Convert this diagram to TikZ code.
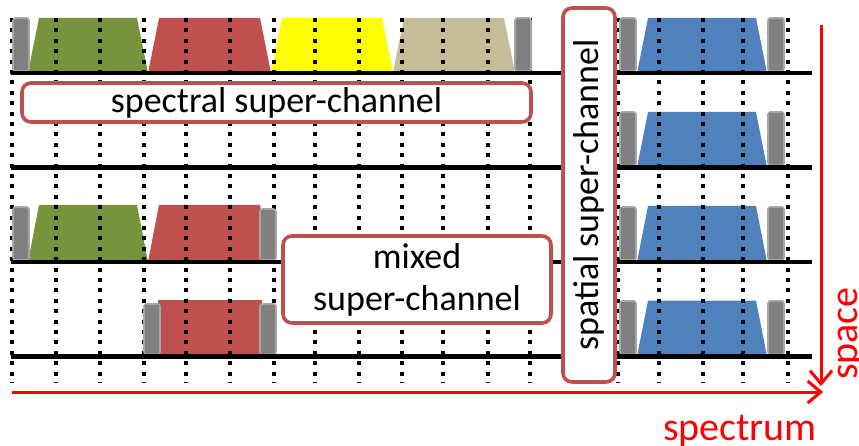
\documentclass[tikz,border=0pt]{standalone}
\usepackage{fontspec}
\setmainfont{Carlito}
\usetikzlibrary{arrows.meta}
\definecolor{cgreen}{HTML}{77933C}
\definecolor{cred}{HTML}{C0504D}
\definecolor{cyellow}{HTML}{FFFF00}
\definecolor{ctan}{HTML}{C4BD97}
\definecolor{cblue}{HTML}{4F81BD}
\definecolor{cgray}{HTML}{808080}
\definecolor{cgrayb}{HTML}{A6A6A6}
\newcommand\chtrap[5]{\fill[#1] (#2,#5) -- (#2+11,#4) -- (#3-11,#4) -- (#3,#5) -- cycle;}
\newcommand\chguard[3]{\draw[guard] (#1,#2+2) rectangle (#1+16,#3-2);}
\begin{document}
\begin{tikzpicture}[x=1pt,y=-1pt,
 dotline/.style={line width=4.2pt, dash pattern=on 4pt off 6.4pt},
 fiber/.style={line width=4.8pt},
 guard/.style={fill=cgray, draw=cgrayb, line width=1.6pt, rounded corners=2.5pt},
 scbox/.style={draw=cred, line width=3.6pt, fill=white, rounded corners=9pt, inner sep=0pt},
 lbl/.style={font=\fontsize{36}{42}\selectfont},
 axis/.style={draw=red, line width=3pt, -{Straight Barb[length=13pt,width=22pt,line width=3pt]}},
 axlbl/.style={text=red, font=\fontsize{40}{48}\selectfont, inner sep=0pt}]
\useasboundingbox (0,0) rectangle (859,446);
% fibre positions
\def\la{73}\def\lb{167.5}\def\lc{262}\def\ld{356.5}
% row 1 spectral channels
\chtrap{cgreen}{28}{148}{18}{\la}
\chtrap{cred}{148}{271}{18}{\la}
\chtrap{cyellow}{271}{393}{18}{\la}
\chtrap{ctan}{393}{515}{18}{\la}
% row 3 mixed channels
\chtrap{cgreen}{28}{148}{205}{\lc}
\chtrap{cred}{148}{271}{205}{\lc}
% row 4
\fill[cred] (158,300) rectangle (262,\ld);
% blue spatial channels
\foreach \t/\b in {18/\la,112/\lb,206/\lc,300.5/\ld}{
  \chtrap{cblue}{637}{767}{\t}{\b}
}
% dotted grid
\foreach \x in {12,56,100,144,186,230,274,315,359,402,443,488,530,618,659,703,743,788}{
  \draw[dotline] (\x,18) -- (\x,383);
}
% guard bands
\chguard{13}{16}{\la}
\chguard{515}{16}{\la}
\chguard{13}{205}{\lc}
\chguard{260}{207}{\lc}
\chguard{144}{302}{\ld}
\chguard{260}{302}{\ld}
\foreach \t/\b in {16/\la,110/\lb,205/\lc,299/\ld}{
  \chguard{620}{\t}{\b}
  \chguard{768}{\t}{\b}
}
% fibres
\foreach \y in {\la,\lb,\lc,\ld}{
  \draw[fiber] (11,\y) -- (812,\y);
}
% super-channel labels
\node[scbox, lbl, minimum width=509pt, minimum height=39pt] (spec) at (276.5,102.5) {spectral super-channel};
\node[scbox, lbl, align=center, minimum width=268pt, minimum height=87pt] (mixed) at (417,279.5) {mixed\\super-channel};
\node[scbox, lbl, rotate=90, minimum width=374pt, minimum height=52pt] (spatial) at (589,195) {spatial super-channel};
% axes
\coordinate (hs) at (12,392);
\coordinate (he) at (823,392);
\coordinate (vs) at (821,25);
\coordinate (ve) at (821,386);
\draw[axis] (hs) -- (he);
\draw[axis] (vs) -- (ve);
\node[axlbl, anchor=base] (spectrum) at (740,440) {spectrum};
\node[axlbl, rotate=90, anchor=base] (space) at (857,333.5) {space};
\end{tikzpicture}
\end{document}
